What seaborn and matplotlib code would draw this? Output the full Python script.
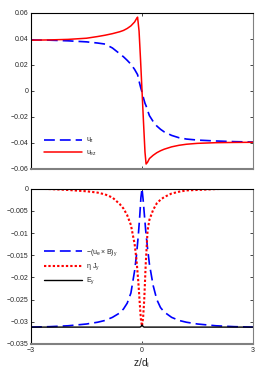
import numpy as np
import pandas as pd
import matplotlib
matplotlib.use("Agg")
import matplotlib.pyplot as plt
import seaborn as sns

# top panel data
z_top = [-3, -2.5, -2, -1.5, -1.2, -1, -0.8, -0.6, -0.5, -0.4, -0.3, -0.2, -0.15, -0.12, -0.08,
         -0.04, 0, 0.04, 0.08, 0.11, 0.15, 0.2, 0.3, 0.4, 0.5, 0.6, 0.8, 1, 1.2, 1.5, 2, 2.5, 3]
u_z = [0.0392, 0.0390, 0.0385, 0.0377, 0.0368, 0.0360, 0.0330, 0.0285, 0.0262, 0.0235, 0.0205,
       0.0165, 0.0140, 0.0125, 0.0075, 0.0030, -0.0010, -0.0055, -0.0095, -0.0115, -0.0150,
       -0.0190, -0.0235, -0.0270, -0.0295, -0.0315, -0.0342, -0.0360, -0.0370, -0.0378,
       -0.0385, -0.0390, -0.0393]
u_ez = [0.0390, 0.0392, 0.0396, 0.0405, 0.0418, 0.0428, 0.0440, 0.0455, 0.0465, 0.0480, 0.0500,
        0.0530, 0.0555, 0.0567, 0.0460, 0.0240, 0.0, -0.0240, -0.0470, -0.0562, -0.0548,
        -0.0520, -0.0495, -0.0475, -0.0460, -0.0448, -0.0430, -0.0418, -0.0410, -0.0403,
        -0.0398, -0.0396, -0.0395]

# bottom panel data
z_bot = [-3, -2.5, -2, -1.5, -1.2, -1, -0.8, -0.6, -0.5, -0.4, -0.3, -0.2, -0.15, -0.1, -0.06,
         -0.03, 0, 0.03, 0.06, 0.1, 0.15, 0.2, 0.3, 0.4, 0.5, 0.6, 0.8, 1, 1.2, 1.5, 2, 2.5, 3]
uxB = [-0.0312, -0.0311, -0.0309, -0.0305, -0.0301, -0.0297, -0.0290, -0.0280, -0.0271, -0.0258,
       -0.0235, -0.0185, -0.0150, -0.0105, -0.0060, -0.0020, 0.0, -0.0025, -0.0055, -0.0095,
       -0.0135, -0.0170, -0.0218, -0.0250, -0.0268, -0.0278, -0.0290, -0.0297, -0.0301,
       -0.0305, -0.0309, -0.0311, -0.0312]
etaJ = [0.0, -0.0001, -0.0003, -0.0006, -0.0009, -0.0013, -0.0020, -0.0035, -0.0045, -0.0060,
        -0.0082, -0.0125, -0.0160, -0.0210, -0.0260, -0.0295, -0.0310, -0.0290, -0.0250, -0.0170,
        -0.0095, -0.0070, -0.0048, -0.0033, -0.0025, -0.0019, -0.0011, -0.0007, -0.0004,
        -0.0003, -0.0001, 0.0, 0.0]
E_y = [-0.0312] * 15 + [-0.0311, -0.0307, -0.0311] + [-0.0312] * 15

sns.set_style("ticks")
plt.rcParams['font.family'] = ['Liberation Sans', 'DejaVu Sans']
plt.rcParams['mathtext.default'] = 'regular'
plt.rcParams['axes.unicode_minus'] = True

fig = plt.figure(figsize=(2.63, 3.78), dpi=100)
ax1 = fig.add_axes([0.118, 0.553, 0.844, 0.413])
ax2 = fig.add_axes([0.118, 0.090, 0.844, 0.411])

sns.lineplot(x=z_top, y=u_z, ax=ax1, color='blue', lw=1.2, linestyle=(0, (6.5, 3)), label='$u_z$')
sns.lineplot(x=z_top, y=u_ez, ax=ax1, color='red', lw=1.1, label='$u_{ez}$')

sns.lineplot(x=z_bot, y=uxB, ax=ax2, color='blue', lw=1.2, linestyle=(0, (6.5, 3)),
             label='$-(u_e \\times B)_y$')
sns.lineplot(x=z_bot, y=etaJ, ax=ax2, color='red', lw=1.5, linestyle=(0, (1.1, 1)), label='$\\eta\\ J_y$')
sns.lineplot(x=z_bot, y=E_y, ax=ax2, color='black', lw=1.0, label='$E_y$')

for ax in (ax1, ax2):
    ax.set_xlim(-3, 3)
    ax.set_xticks([-3, 0, 3])
    ax.tick_params(direction='in', labelsize=5, length=2.5, width=0.6, right=True, top=True, pad=2)
    for s in ['top', 'left']:
        ax.spines[s].set_linewidth(0.8)
        ax.spines[s].set_color('black')
    ax.spines['right'].set_color('#808080')
    ax.spines['right'].set_linewidth(0.8)
    ax.spines['bottom'].set_color('#808080')
    ax.spines['bottom'].set_linewidth(1.5)
    ax.legend(loc='lower left', bbox_to_anchor=(0.03, 0.03) if ax is ax1 else (0.03, 0.33),
              frameon=False, fontsize=5, handlelength=5.5, handletextpad=0.6, labelspacing=0.5)

ax1.set_ylim(-0.06, 0.06)
ax1.set_yticks([-0.06, -0.04, -0.02, 0, 0.02, 0.04, 0.06])
ax1.set_yticklabels(['\u22120.06', '\u22120.04', '\u22120.02', '0', '0.02', '0.04', '0.06'])
ax1.set_xticklabels([])

ax2.set_ylim(-0.035, 0)
yt = [-0.035, -0.03, -0.025, -0.02, -0.015, -0.01, -0.005, 0]
ax2.set_yticks(yt)
ax2.set_yticklabels(['\u22120.035', '\u22120.03', '\u22120.025', '\u22120.02', '\u22120.015',
                     '\u22120.01', '\u22120.005', '0'])
ax2.set_xticklabels(['\u22123', '0', '3'])
ax2.set_xlabel('$z/d_i$', fontsize=7.5, labelpad=2)

fig.savefig('out.png', dpi=100)
